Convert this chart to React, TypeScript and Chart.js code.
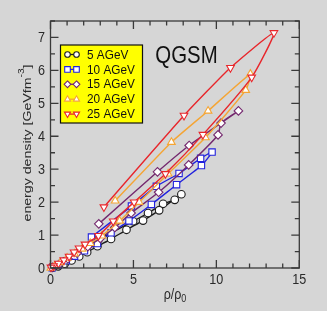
import { useEffect, useRef } from 'react';
import { Chart, registerables } from 'chart.js';
Chart.register(...registerables);

const seriesLabels = ['5 AGeV', '10 AGeV', '15 AGeV', '20 AGeV', '25 AGeV'];
const seriesColors = ['#1c1c1c', '#2222dd', '#74286e', '#f5a534', '#e8262b'];
const seriesMarkers = ['circle', 'rect', 'rectRot', 'triangle', 'triangle'];
const seriesRotation = [0, 0, 0, 0, 180];

const x5 = [2.9, 4.98, 5.88, 6.79, 7.49, 7.89, 6.55, 5.58, 4.58, 3.65, 2.83, 2.21, 1.73, 1.27, 0.86, 0.46, 0.12];
const y5 = [0.87, 1.42, 1.67, 1.95, 2.07, 2.24, 1.75, 1.44, 1.16, 0.88, 0.66, 0.48, 0.35, 0.23, 0.13, 0.05, 0.01];

const x10 = [2.47, 4.88, 6.38, 7.75, 9.05, 9.74, 9.1, 7.6, 6.08, 4.73, 3.65, 2.83, 2.05, 1.45, 0.95, 0.45, 0.1];
const y10 = [0.94, 1.88, 2.48, 2.87, 3.33, 3.52, 3.11, 2.53, 1.93, 1.43, 1.07, 0.74, 0.52, 0.36, 0.22, 0.09, 0.01];

const x15 = [2.91, 6.45, 8.36, 11.33, 10.28, 10.1, 8.33, 6.52, 4.86, 3.88, 3.0, 2.25, 1.6, 1.05, 0.55, 0.12];
const y15 = [1.34, 2.92, 3.72, 4.77, 4.4, 4.04, 3.13, 2.3, 1.67, 1.23, 0.9, 0.65, 0.45, 0.28, 0.13, 0.02];

const x20 = [3.9, 7.29, 9.5, 12.05, 11.77, 9.34, 7.09, 5.34, 4.17, 3.1, 2.4, 1.9, 1.45, 1.0, 0.6, 0.25, 0.02];
const y20 = [2.04, 3.82, 4.77, 5.89, 5.4, 3.96, 2.86, 2.0, 1.43, 0.98, 0.75, 0.58, 0.43, 0.3, 0.17, 0.06, 0.0];

const x25 = [3.22, 8.05, 10.85, 13.47, 12.13, 9.19, 6.93, 5.04, 3.78, 2.89, 2.08, 1.72, 1.42, 1.12, 0.8, 0.48, 0.18, 0.03];
const y25 = [1.85, 4.63, 6.08, 7.14, 5.79, 4.05, 2.86, 2.0, 1.42, 0.98, 0.72, 0.6, 0.48, 0.35, 0.24, 0.14, 0.06, 0.02];

const seriesX = [x5, x10, x15, x20, x25];
const seriesY = [y5, y10, y15, y20, y25];

const xMajorTicks = [0, 5, 10, 15];
const xMinorTicks = [1, 2, 3, 4, 6, 7, 8, 9, 11, 12, 13, 14];
const yMajorTicks = [0, 1, 2, 3, 4, 5, 6, 7];
const yMinorTicks = [0.5, 1.5, 2.5, 3.5, 4.5, 5.5, 6.5, 7.5];

const BG = '#d6d6d6';
const FONT = '"Liberation Sans", Arial, sans-serif';
const TEXT = '#2a2a2a';

function drawParts(ctx: CanvasRenderingContext2D, parts: { t: string; size: number; dy: number }[], x: number, y: number, align: 'left' | 'center' | 'right') {
  let total = 0;
  for (const p of parts) {
    ctx.font = `${p.size}px ${FONT}`;
    total += ctx.measureText(p.t).width;
  }
  let cx = align === 'left' ? x : align === 'center' ? x - total / 2 : x - total;
  ctx.textAlign = 'left';
  for (const p of parts) {
    ctx.font = `${p.size}px ${FONT}`;
    ctx.fillText(p.t, cx, y + p.dy);
    cx += ctx.measureText(p.t).width;
  }
}

function stretchText(ctx: CanvasRenderingContext2D, s: string, x: number, y: number, size: number, align: CanvasTextAlign, sy: number) {
  ctx.save();
  ctx.translate(x, y);
  ctx.scale(1, sy);
  ctx.font = `${size}px ${FONT}`;
  ctx.textAlign = align;
  ctx.textBaseline = 'middle';
  ctx.fillText(s, 0, 0);
  ctx.restore();
}

function drawMarker(ctx: CanvasRenderingContext2D, style: string, x: number, y: number, r: number, rot: number) {
  if (style === 'circle') {
    ctx.arc(x, y, r, 0, Math.PI * 2);
  } else if (style === 'rect') {
    ctx.rect(x - r, y - r, 2 * r, 2 * r);
  } else if (style === 'rectRot') {
    ctx.moveTo(x, y - r * 1.2); ctx.lineTo(x + r * 1.2, y); ctx.lineTo(x, y + r * 1.2); ctx.lineTo(x - r * 1.2, y); ctx.closePath();
  } else {
    const s = rot === 180 ? -1 : 1;
    ctx.moveTo(x, y - s * r * 1.2);
    ctx.lineTo(x + r * 1.1, y + s * r * 0.7);
    ctx.lineTo(x - r * 1.1, y + s * r * 0.7);
    ctx.closePath();
  }
}

const decor = {
  id: 'decor',
  beforeDraw(chart: any) {
    const ctx = chart.ctx;
    ctx.save();
    ctx.fillStyle = BG;
    ctx.fillRect(0, 0, chart.width, chart.height);
    ctx.restore();
  },
  afterDraw(chart: any) {
    const ctx: CanvasRenderingContext2D = chart.ctx;
    const { left, right, top, bottom } = chart.chartArea;
    const xs = chart.scales.x;
    const ys = chart.scales.y;
    ctx.save();
    ctx.strokeStyle = '#3a3a3a';
    ctx.lineWidth = 1.3;
    ctx.strokeRect(left, top, right - left, bottom - top);
    ctx.beginPath();
    const tick = (v: number, len: number, horiz: boolean) => {
      if (horiz) {
        const px = xs.getPixelForValue(v);
        ctx.moveTo(px, bottom); ctx.lineTo(px, bottom - len);
        ctx.moveTo(px, top); ctx.lineTo(px, top + len);
      } else {
        const py = ys.getPixelForValue(v);
        ctx.moveTo(left, py); ctx.lineTo(left + len, py);
        ctx.moveTo(right, py); ctx.lineTo(right - len, py);
      }
    };
    xMajorTicks.forEach(v => tick(v, 8, true));
    xMinorTicks.forEach(v => tick(v, 4.5, true));
    yMajorTicks.forEach(v => tick(v, 8, false));
    yMinorTicks.forEach(v => tick(v, 4.5, false));
    ctx.stroke();

    ctx.fillStyle = TEXT;
    xMajorTicks.forEach(v => stretchText(ctx, String(v), xs.getPixelForValue(v), 279.5, 12.6, 'center', 1.2));
    yMajorTicks.forEach(v => stretchText(ctx, String(v), 45, ys.getPixelForValue(v) + 0.5, 12.6, 'right', 1.2));

    // x title
    ctx.save();
    ctx.translate(175, 295);
    ctx.scale(1, 1.2);
    ctx.textBaseline = 'middle';
    drawParts(ctx, [{ t: 'ρ/ρ', size: 12.5, dy: 0 }, { t: '0', size: 9, dy: 3 }], 0, 0, 'center');
    ctx.restore();

    // y title
    ctx.save();
    ctx.translate(27.5, 143);
    ctx.rotate(-Math.PI / 2);
    ctx.scale(1.2, 1);
    ctx.textBaseline = 'middle';
    drawParts(ctx, [
      { t: 'energy density [GeVfm', size: 11.8, dy: 0 },
      { t: '-3', size: 8.5, dy: -6 },
      { t: ']', size: 11.8, dy: 0 },
    ], 0, 0, 'center');
    ctx.restore();

    // QGSM
    ctx.fillStyle = '#111';
    stretchText(ctx, 'QGSM', 186.5, 56.5, 20.4, 'center', 1.2);

    // legend
    const lx = 60.5, ly = 45, lw = 82, lh = 78;
    ctx.fillStyle = '#ffff00';
    ctx.fillRect(lx, ly, lw, lh);
    ctx.strokeStyle = '#111';
    ctx.lineWidth = 1.2;
    ctx.strokeRect(lx, ly, lw, lh);
    seriesLabels.forEach((lab, i) => {
      const ry = 54.5 + i * 14.9;
      ctx.strokeStyle = seriesColors[i];
      ctx.lineWidth = 1.3;
      ctx.beginPath();
      ctx.moveTo(67.5, ry); ctx.lineTo(76.5, ry);
      ctx.stroke();
      ctx.lineWidth = 1.1;
      for (const mx of [67.5, 76.5]) {
        ctx.fillStyle = '#ffffff';
        ctx.beginPath();
        drawMarker(ctx, seriesMarkers[i], mx, ry, 2.8, seriesRotation[i]);
        ctx.fill();
        ctx.stroke();
      }
      ctx.fillStyle = '#111';
      stretchText(ctx, lab, 87, ry + 0.5, 11.8, 'left', 1.12);
    });
    ctx.restore();
  },
};

export default function App() {
  const ref = useRef<HTMLCanvasElement>(null);
  useEffect(() => {
    document.body.style.margin = '0';
    document.body.style.background = BG;
    const radii = [3.8, 4.5, 4.3, 4.4, 4.4];
    const datasets = seriesLabels.map((lab, i) => ({
      label: lab,
      data: seriesX[i].map((x, j) => ({ x, y: seriesY[i][j] })),
      borderColor: seriesColors[i],
      backgroundColor: '#ffffff',
      borderWidth: 1.4,
      pointRadius: radii[i],
      pointBorderWidth: 1.1,
      pointBackgroundColor: '#ffffff',
      pointBorderColor: seriesColors[i],
      pointStyle: seriesMarkers[i],
      pointRotation: seriesRotation[i],
      tension: 0.18,
      showLine: true,
      fill: false,
      clip: false,
      order: 4 - i,
    }));
    const chart = new Chart(ref.current!, {
      type: 'scatter',
      data: { datasets: datasets as any },
      options: {
        animation: false,
        responsive: false,
        devicePixelRatio: 1,
        layout: { padding: { left: 50.5, right: 27.7, top: 21, bottom: 43 } },
        scales: {
          x: { type: 'linear', min: 0, max: 15, display: false },
          y: { type: 'linear', min: 0, max: 7.5, display: false },
        },
        plugins: { legend: { display: false }, tooltip: { enabled: false } },
      },
      plugins: [decor],
    });
    return () => chart.destroy();
  }, []);
  return (
    <div style={{ position: 'fixed', left: 0, top: 0, width: 327, height: 311, background: BG }}>
      <canvas ref={ref} width={327} height={311} style={{ display: 'block' }} />
    </div>
  );
}
